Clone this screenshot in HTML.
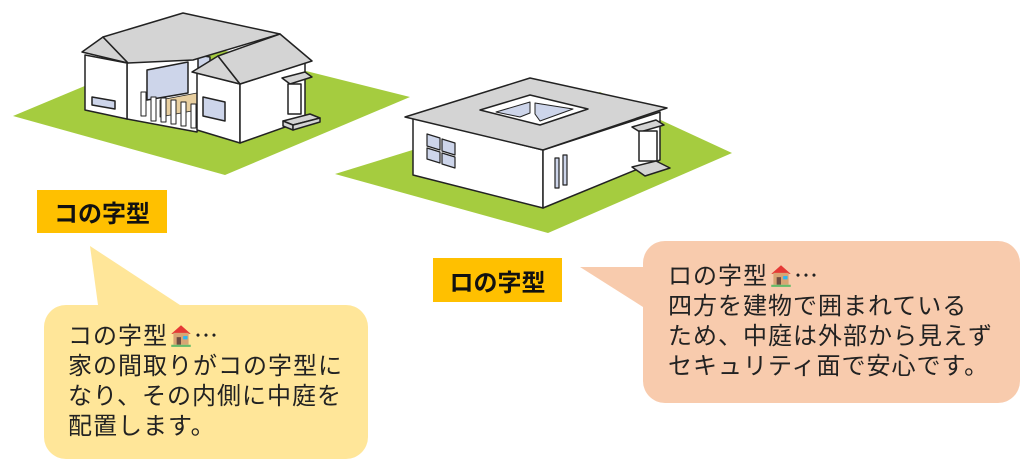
<!DOCTYPE html>
<html><head><meta charset="utf-8"><style>
body{margin:0;width:1024px;height:460px;background:#fff;position:relative;overflow:hidden;font-family:"Liberation Sans","Noto Sans CJK JP",sans-serif}
.lbl{position:absolute;background:#ffc000;font-weight:bold;font-size:24px;color:#111;display:flex;align-items:center;justify-content:center}
.txt{position:absolute;font-size:24px;line-height:30px;color:#222;white-space:nowrap;letter-spacing:1px}
.h{display:inline-block;width:26px;height:26px;vertical-align:-4px}
</style></head><body>
<svg width="1024" height="460" style="position:absolute;left:0;top:0" stroke-linejoin="round">
<polygon points="13,116 190,42 410,97 225,175" fill="#a5cc3f"/>
<polygon points="335,174 600,92 732,153 548,233" fill="#a5cc3f"/>
<g stroke="#222" stroke-width="1.5">
<polygon points="127,63 197,52 210,66 197,132 127,119" fill="#fff"/>
<polygon points="147,70 188,62 188,93 147,100" fill="#cdd5ea"/>
<polygon points="198,55 210,57 210,66 198,68" fill="#cdd5ea"/>
<polygon points="160,100 197,93 197,110 160,117" fill="#e8cfa0" stroke-width="0.8"/>
<g fill="#fff" stroke-width="1">
<rect x="141" y="92" width="5" height="24"/><rect x="151" y="97" width="5" height="24"/><rect x="161" y="98" width="5" height="24"/><rect x="171" y="100" width="5" height="24"/><rect x="181" y="102" width="5" height="24"/><rect x="191" y="104" width="5" height="24"/>
</g>
<polygon points="85,55 127,63 127,119 85,110" fill="#fff"/>
<polygon points="92,97 115,101 115,109 92,105" fill="#cdd5ea"/>
<polygon points="82,52 103,37 128,63" fill="#d4d4d4"/>
<polygon points="103,37 183,13 280,34 193,60 128,63" fill="#d4d4d4"/>
<polygon points="197,73 240,84 240,143 197,130" fill="#fff"/>
<polygon points="203,97 225,102 225,121 203,116" fill="#cdd5ea"/>
<polygon points="240,84 305,63 305,120 240,143" fill="#fff"/>
<polygon points="192,72 218,56 240,84" fill="#d4d4d4"/>
<polygon points="218,56 280,34 312,61 240,84" fill="#d4d4d4"/>
<polygon points="282,78 305,72 312,77 290,84" fill="#d4d4d4"/>
<rect x="288" y="84" width="13" height="30" fill="#fff"/>
<polygon points="283,121 310,114 320,118 293,125" fill="#d4d4d4"/>
<polygon points="283,121 293,125 293,130 283,126" fill="#d4d4d4"/>
<polygon points="293,125 320,118 320,122 293,130" fill="#d4d4d4"/>
</g>
<g stroke="#222" stroke-width="1.5">
<polygon points="413,118 543,150 543,208 413,175" fill="#fff"/>
<polygon points="543,150 660,112 660,160 543,208" fill="#fff"/>
<polygon points="405,117 530,78 667,108 543,150" fill="#d4d4d4"/>
<polygon points="480,110 530,95 588,109 540,125" fill="#fff"/>
<polygon points="496,112 530,102 530,113 520,117" fill="#cdd5ea" stroke-width="1"/>
<polygon points="535,103 573,109 540,121 535,114" fill="#cdd5ea" stroke-width="1"/>
<g fill="#cdd5ea" stroke-width="1.2">
<polygon points="427,134 440,138 440,150 427,146"/><polygon points="442,139 455,143 455,155 442,151"/>
<polygon points="427,148 440,152 440,163 427,159"/><polygon points="442,153 455,157 455,168 442,164"/>
<rect x="555" y="158" width="4" height="30"/><rect x="563" y="155" width="4" height="30"/>
</g>
<polygon points="632,127 656,120 664,125 640,132" fill="#d4d4d4"/>
<rect x="639" y="131" width="18" height="30" fill="#fff"/>
<polygon points="632,167 656,161 670,168 645,176" fill="#d4d4d4"/>
</g>
<polygon points="90,246 180,305 98,305" fill="#ffe699"/>
<rect x="44" y="305" width="324" height="154" rx="22" fill="#ffe699"/>
<polygon points="580,267 643,267 643,307" fill="#f8cbad"/>
<rect x="643" y="241" width="377" height="162" rx="22" fill="#f8cbad"/>
</svg>
<div class="lbl" style="left:37px;top:190px;width:130px;height:43px">コの字型</div>
<div class="lbl" style="left:433px;top:258px;width:129px;height:44px">ロの字型</div>
<div class="txt" style="left:68px;top:322px">コの字型<svg class="h" viewBox="0 0 24 24"><polygon points="3,11 12,3 21,11" fill="#e53935"/><rect x="5" y="10" width="14" height="11" fill="#d7a574"/><rect x="8" y="14" width="4" height="7" fill="#6d4c41"/><rect x="14" y="13" width="4" height="3" fill="#29b6f6"/><rect x="3" y="21" width="18" height="2" fill="#66bb6a"/></svg>⋯<br>家の間取りがコの字型に<br>なり、その内側に中庭を<br>配置します。</div>
<div class="txt" style="left:668px;top:262px">ロの字型<svg class="h" viewBox="0 0 24 24"><polygon points="3,11 12,3 21,11" fill="#e53935"/><rect x="5" y="10" width="14" height="11" fill="#d7a574"/><rect x="8" y="14" width="4" height="7" fill="#6d4c41"/><rect x="14" y="13" width="4" height="3" fill="#29b6f6"/><rect x="3" y="21" width="18" height="2" fill="#66bb6a"/></svg>⋯<br>四方を建物で囲まれている<br>ため、中庭は外部から見えず<br>セキュリティ面で安心です。</div>
</body></html>
